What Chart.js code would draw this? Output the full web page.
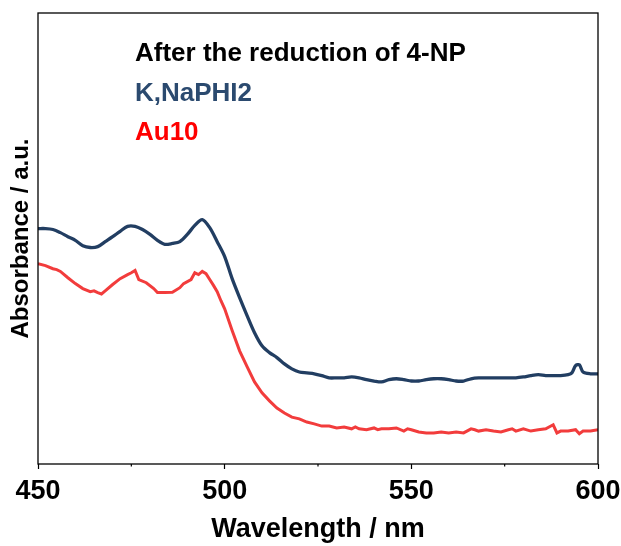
<!DOCTYPE html>
<html lang="en">
  <head>
    <meta charset="UTF-8" />
    <title>After the reduction of 4-NP</title>
    <style>
      body {
        margin: 0;
        background: #ffffff;
      }
      #chart {
        display: block;
      }
    </style>
    <script src="https://cdn.jsdelivr.net/npm/chart.js"></script>
  </head>
  <body>
    <canvas id="chart" width="621" height="546"></canvas>

    <script>
      // wavelengths (nm) and absorbance (a.u.)
      const blueWl = [450, 452, 454, 456, 458, 460, 462, 464, 466, 468, 470, 472, 474, 476, 478, 480,
        482, 484, 486, 488, 490, 492, 494, 496, 498, 500, 502, 504, 506, 508, 510, 512, 514, 516, 518,
        520, 522, 524, 526, 528, 530, 532, 534, 536, 538, 540, 542, 544, 546, 548, 550, 552, 554, 556,
        558, 560, 562, 564, 566, 568, 570, 572, 574, 576, 578, 580, 582, 584, 586, 588, 590, 592, 593,
        594, 595, 596, 598, 600];
      const blueAbs = [0.522, 0.522, 0.520, 0.513, 0.504, 0.496, 0.484, 0.480, 0.482, 0.493, 0.504,
        0.516, 0.527, 0.527, 0.520, 0.509, 0.496, 0.487, 0.489, 0.493, 0.509, 0.529, 0.542, 0.524,
        0.493, 0.460, 0.411, 0.369, 0.329, 0.291, 0.262, 0.247, 0.236, 0.222, 0.211, 0.204, 0.202,
        0.200, 0.196, 0.191, 0.191, 0.191, 0.193, 0.191, 0.187, 0.184, 0.182, 0.187, 0.189, 0.187,
        0.184, 0.184, 0.187, 0.189, 0.189, 0.187, 0.184, 0.184, 0.189, 0.191, 0.191, 0.191, 0.191,
        0.191, 0.191, 0.193, 0.196, 0.198, 0.196, 0.196, 0.196, 0.198, 0.202, 0.218, 0.220, 0.204,
        0.200, 0.200];

      const redWl = [450, 452, 454, 455, 456, 458, 460, 462, 464, 465, 466, 467, 468, 470, 472, 474,
        475, 476, 477, 479, 481, 482, 484, 486, 488, 489, 491, 492, 493, 494, 495, 496, 497, 498, 499,
        500, 502, 504, 506, 508, 510, 512, 514, 516, 518, 520, 522, 524, 526, 528, 530, 532, 534, 535,
        536, 538, 540, 541, 542, 544, 546, 548, 549, 550, 552, 554, 556, 558, 560, 562, 564, 566, 567,
        568, 570, 572, 574, 576, 577, 578, 580, 582, 584, 586, 588, 589, 590, 592, 594, 595, 596, 598,
        600];
      const redAbs = [0.444, 0.440, 0.433, 0.431, 0.427, 0.413, 0.400, 0.389, 0.382, 0.384, 0.380,
        0.377, 0.384, 0.398, 0.411, 0.420, 0.424, 0.429, 0.409, 0.402, 0.389, 0.380, 0.380, 0.381,
        0.391, 0.400, 0.409, 0.424, 0.420, 0.427, 0.422, 0.409, 0.396, 0.382, 0.362, 0.344, 0.296,
        0.251, 0.216, 0.182, 0.158, 0.140, 0.124, 0.113, 0.104, 0.100, 0.093, 0.089, 0.084, 0.084,
        0.080, 0.082, 0.078, 0.082, 0.078, 0.076, 0.080, 0.076, 0.078, 0.078, 0.080, 0.073, 0.078,
        0.076, 0.071, 0.069, 0.069, 0.071, 0.069, 0.071, 0.069, 0.078, 0.076, 0.073, 0.076, 0.073,
        0.071, 0.076, 0.078, 0.073, 0.078, 0.073, 0.076, 0.078, 0.087, 0.069, 0.073, 0.073, 0.076,
        0.067, 0.073, 0.073, 0.076];

      const annotations = ['After the reduction of 4-NP', 'K,NaPHI2', 'Au10'];
      const annotationColors = ['#000000', '#2b4a6f', '#ff0000'];

      const FONT = "'Liberation Sans', Arial, sans-serif";

      // full black box around the plot, plus short minor ticks
      const framePlugin = {
        id: 'frame',
        afterDraw(chart) {
          const ctx = chart.ctx;
          const a = chart.chartArea;
          ctx.save();
          ctx.strokeStyle = '#000';
          ctx.lineWidth = 1.3;
          ctx.strokeRect(a.left, a.top, a.right - a.left, a.bottom - a.top);
          const xs = chart.scales.x;
          ctx.lineWidth = 1.2;
          xs.ticks.forEach(t => {
            if (t.value % 50 !== 0) {
              const px = xs.getPixelForValue(t.value);
              ctx.beginPath();
              ctx.moveTo(px, a.bottom);
              ctx.lineTo(px, a.bottom + 2.5);
              ctx.stroke();
            }
          });
          ctx.restore();
        }
      };

      const textPlugin = {
        id: 'notes',
        afterDraw(chart) {
          const ctx = chart.ctx;
          ctx.save();
          ctx.font = 'bold 26px ' + FONT;
          ctx.textBaseline = 'alphabetic';
          annotations.forEach((txt, i) => {
            ctx.fillStyle = annotationColors[i];
            ctx.fillText(txt, 135, 61 + i * 39.5);
          });
          ctx.restore();
        }
      };

      const ctx = document.getElementById('chart').getContext('2d');
      const myChart = new Chart(ctx, {
        type: 'line',
        data: {
          datasets: [
            {
              label: 'K,NaPHI2',
              data: blueWl.map((w, i) => ({ x: w, y: blueAbs[i] })),
              borderColor: '#223e62',
              borderWidth: 3.3,
              pointRadius: 0,
              tension: 0.3,
              fill: false
            },
            {
              label: 'Au10',
              data: redWl.map((w, i) => ({ x: w, y: redAbs[i] })),
              borderColor: '#f23c3c',
              borderWidth: 3,
              pointRadius: 0,
              tension: 0,
              fill: false
            }
          ]
        },
        options: {
          responsive: false,
          animation: false,
          layout: {
            padding: { top: 13, right: 23, left: 0, bottom: 0 }
          },
          plugins: {
            legend: { display: false },
            tooltip: { enabled: false }
          },
          scales: {
            x: {
              type: 'linear',
              min: 450,
              max: 600,
              afterFit: s => {
                s.height = 82;
                s.paddingLeft = 0;
                s.paddingRight = 0;
              },
              ticks: {
                stepSize: 25,
                padding: 6,
                color: '#000',
                font: { family: FONT, size: 27, weight: 'bold' },
                callback: v => (v % 50 === 0 ? v : '')
              },
              grid: {
                drawOnChartArea: false,
                tickLength: 5,
                tickWidth: 1.2,
                tickColor: c => (c.tick && c.tick.value % 50 === 0 ? '#000' : 'rgba(0,0,0,0)')
              },
              border: { display: false },
              title: {
                display: true,
                text: 'Wavelength / nm',
                color: '#000',
                padding: { top: 0, bottom: 0 },
                font: { family: FONT, size: 27, weight: 'bold' }
              }
            },
            y: {
              min: 0,
              max: 1,
              afterFit: s => { s.width = 38; },
              ticks: { display: false },
              grid: { display: false },
              border: { display: false },
              title: {
                display: true,
                text: 'Absorbance / a.u.',
                color: '#000',
                padding: { top: 7, bottom: 0 },
                font: { family: FONT, size: 24, weight: 'bold' }
              }
            }
          }
        },
        plugins: [framePlugin, textPlugin]
      });
    </script>
  </body>
</html>
